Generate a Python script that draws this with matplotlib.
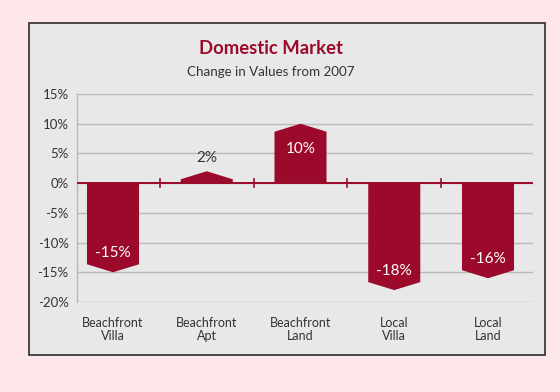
import matplotlib.pyplot as plt
from matplotlib.patches import Polygon, Rectangle

categories = ['Beachfront\nVilla', 'Beachfront\nApt', 'Beachfront\nLand', 'Local\nVilla', 'Local\nLand']
values = [-15, 2, 10, -18, -16]
value_labels = ['-15%', '2%', '10%', '-18%', '-16%']
y_ticks = [15, 10, 5, 0, -5, -10, -15, -20]

BG = '#fde7ea'
PANEL = '#e8e8e8'
RED = '#9c0a2b'
TEXT = '#333333'
FONT = 'Lato'

W, H = 560, 392
BAR_W = 0.555
TIP = 1.35


def fx(px):
    return px / W


def fy(py):
    return 1 - py / H


def main():
    plt.rcParams['font.family'] = [FONT, 'DejaVu Sans']
    fig = plt.figure(figsize=(5.6, 3.92), dpi=100, facecolor=BG)

    # panel with dark border, kept behind the axes
    fig.patches.append(Rectangle((fx(29), fy(355)), fx(545) - fx(29), fy(23) - fy(355),
                                 transform=fig.transFigure, facecolor=PANEL,
                                 edgecolor='#3c3c3c', linewidth=1.3, zorder=-10))

    fig.text(fx(271), fy(49), 'Domestic Market', ha='center', va='center',
             fontsize=13.3, fontweight='bold', color=RED)
    fig.text(fx(271), fy(72), 'Change in Values from 2007', ha='center', va='center',
             fontsize=9.6, color=TEXT)

    ax = fig.add_axes([fx(77), fy(302), fx(533) - fx(77), fy(94) - fy(302)])
    ax.patch.set_visible(False)
    ax.set_zorder(5)
    ax.set_xlim(-0.384, 4.48)
    ax.set_ylim(-20, 15)

    for y in y_ticks:
        ax.axhline(y, color='#b9b9b9', linewidth=1, zorder=1)

    for i, v in enumerate(values):
        left, right = i - BAR_W / 2, i + BAR_W / 2
        sign = 1 if v > 0 else -1
        shoulder = v - sign * TIP
        poly = Polygon([(left, 0), (left, shoulder), (i, v), (right, shoulder), (right, 0)],
                       closed=True, facecolor=RED, edgecolor='none', zorder=3)
        ax.add_patch(poly)
        if abs(v) > 5:
            ty = v - sign * (3.2 if v < 0 else 4.3)
            ax.text(i, ty, value_labels[i], ha='center', va='center',
                    fontsize=11, color='white', zorder=4)
        else:
            ax.text(i, v + 2.3, value_labels[i], ha='center', va='center',
                    fontsize=11, color=TEXT, zorder=4)

    ax.axhline(0, color=RED, linewidth=1.4, zorder=4)
    for b in range(len(values) - 1):
        ax.plot([b + 0.5, b + 0.5], [-0.7, 0.7], color=RED, linewidth=1.2, zorder=4)

    for s in ['top', 'right', 'bottom']:
        ax.spines[s].set_visible(False)
    ax.spines['left'].set_color('#b9b9b9')
    ax.spines['left'].set_linewidth(1)

    ax.set_yticks(y_ticks)
    ax.set_yticklabels([f'{t}%' for t in y_ticks], fontsize=9.5, color=TEXT)
    ax.set_xticks(range(len(categories)))
    ax.set_xticklabels(categories, fontsize=9, color=TEXT, linespacing=1.1)
    ax.tick_params(axis='y', length=0, pad=6)
    ax.tick_params(axis='x', length=0, pad=11)

    fig.savefig('out.png', dpi=100, facecolor=BG)


if __name__ == '__main__':
    main()
